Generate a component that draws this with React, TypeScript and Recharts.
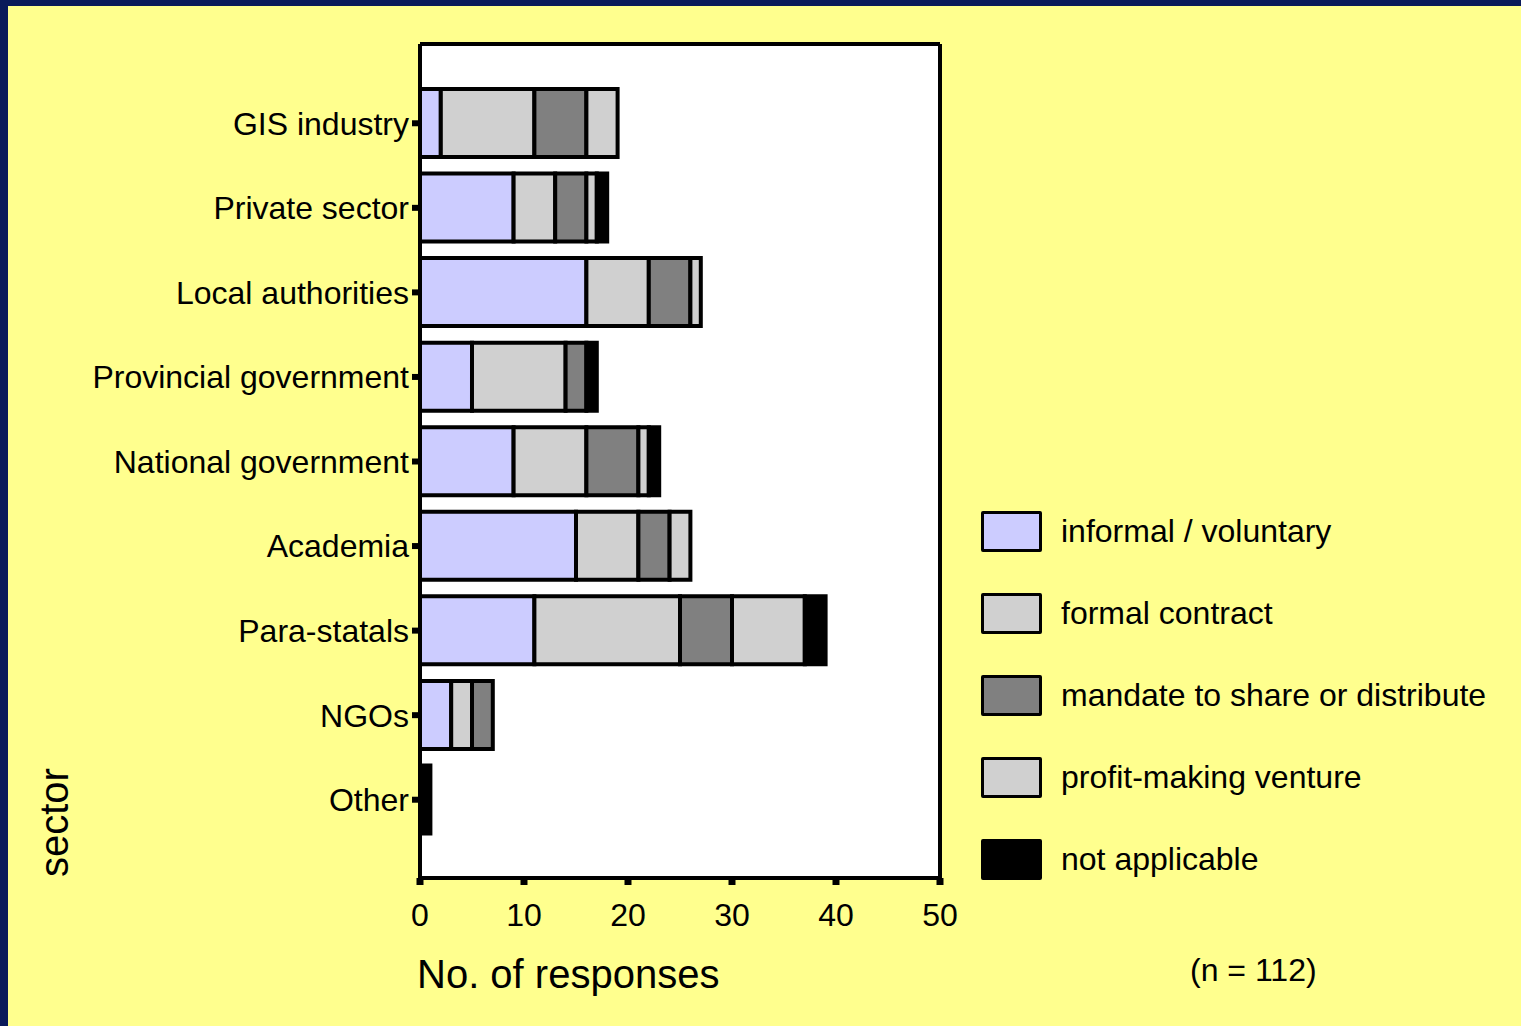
import { BarChart, Bar, XAxis, YAxis, CartesianGrid, Legend, Label } from 'recharts'

const sectors = ['GIS industry', 'Private sector', 'Local authorities', 'Provincial government', 'National government', 'Academia', 'Para-statals', 'NGOs', 'Other']
const informal = [2, 9, 16, 5, 9, 15, 11, 3, 0]
const formal = [9, 4, 6, 9, 7, 6, 14, 2, 0]
const mandate = [5, 3, 4, 2, 5, 3, 5, 2, 0]
const profit = [3, 1, 1, 0, 1, 2, 7, 0, 0]
const notApplicable = [0, 1, 0, 1, 1, 0, 2, 0, 1]
const xTicks = [0, 10, 20, 30, 40, 50]
const seriesNames = ['informal / voluntary', 'formal contract', 'mandate to share or distribute', 'profit-making venture', 'not applicable']

const data = sectors.map((sector, i) => ({
  sector,
  informal: informal[i],
  formal: formal[i],
  mandate: mandate[i],
  profit: profit[i],
  na: notApplicable[i],
}))

const font = '"Liberation Sans", Arial, sans-serif'

function XTitle({ viewBox }: any) {
  return (
    <text x={viewBox.x - 3} y={viewBox.y + 110} fontSize={40} fill="#000" fontFamily={font}>
      No. of responses
    </text>
  )
}

function YTitle({ viewBox }: any) {
  const x = viewBox.x + 48
  const y = viewBox.y + viewBox.height - 1
  return (
    <text x={x} y={y} fontSize={40} fill="#000" fontFamily={font} transform={`rotate(-90 ${x} ${y})`}>
      sector
    </text>
  )
}

function LegendBox({ payload }: any) {
  const items = [...(payload || [])].sort((a: any, b: any) => seriesNames.indexOf(a.value) - seriesNames.indexOf(b.value))
  return (
    <div style={{ fontFamily: font }}>
      {items.map((p: any) => (
        <div key={p.value} style={{ height: 82, display: 'flex', alignItems: 'center' }}>
          <div style={{ width: 55, height: 35, background: p.color, border: '3.5px solid #000', borderRadius: 2 }} />
          <span style={{ marginLeft: 19, fontSize: 32, color: '#000' }}>{p.value}</span>
        </div>
      ))}
    </div>
  )
}

export default function App() {
  return (
    <div style={{ position: 'fixed', left: 0, top: 0, width: 1521, height: 1026, background: '#0a1a5a' }}>
      <div style={{ position: 'absolute', left: 8, top: 6, width: 1513, height: 1020, background: '#ffff8e' }}>
        <BarChart
          width={1513}
          height={1020}
          data={data}
          layout="vertical"
          margin={{ top: 38, right: 581, bottom: 28, left: 12 }}
          barSize={68}
        >
          <CartesianGrid
            fill="#fff"
            stroke="#000"
            strokeWidth={4}
            horizontalCoordinatesGenerator={({ offset }: any) => [offset.top, offset.top + offset.height]}
            verticalCoordinatesGenerator={({ offset }: any) => [offset.left, offset.left + offset.width]}
          />
          <XAxis
            type="number"
            domain={[0, 50]}
            ticks={xTicks}
            interval={0}
            height={120}
            axisLine={{ stroke: '#000', strokeWidth: 4 }}
            tickLine={{ stroke: '#000', strokeWidth: 7 }}
            tickSize={7}
            tickMargin={18}
            tick={{ fill: '#000', fontSize: 32, fontFamily: font }}
          >
            <Label content={XTitle} />
          </XAxis>
          <YAxis
            type="category"
            dataKey="sector"
            width={400}
            padding={{ top: 37, bottom: 36 }}
            interval={0}
            axisLine={{ stroke: '#000', strokeWidth: 4 }}
            tickLine={{ stroke: '#000', strokeWidth: 6 }}
            tickSize={8}
            tickMargin={3}
            tick={{ fill: '#000', fontSize: 32, fontFamily: font }}
          >
            <Label content={YTitle} />
          </YAxis>
          <Legend
            layout="vertical"
            align="center"
            verticalAlign="middle"
            content={LegendBox}
            wrapperStyle={{ left: 973, top: 484, width: 540, height: 420 }}
          />
          <Bar dataKey="informal" name="informal / voluntary" stackId="a" fill="#ccccff" stroke="#000" strokeWidth={4} isAnimationActive={false} />
          <Bar dataKey="formal" name="formal contract" stackId="a" fill="#d0d0d0" stroke="#000" strokeWidth={4} isAnimationActive={false} />
          <Bar dataKey="mandate" name="mandate to share or distribute" stackId="a" fill="#808080" stroke="#000" strokeWidth={4} isAnimationActive={false} />
          <Bar dataKey="profit" name="profit-making venture" stackId="a" fill="#d0d0d0" stroke="#000" strokeWidth={4} isAnimationActive={false} />
          <Bar dataKey="na" name="not applicable" stackId="a" fill="#000000" stroke="#000" strokeWidth={4} isAnimationActive={false} />
        </BarChart>
        <div style={{ position: 'absolute', left: 1182, top: 946, fontSize: 32, lineHeight: '36px', fontFamily: font, color: '#000' }}>
          (n = 112)
        </div>
      </div>
    </div>
  )
}
